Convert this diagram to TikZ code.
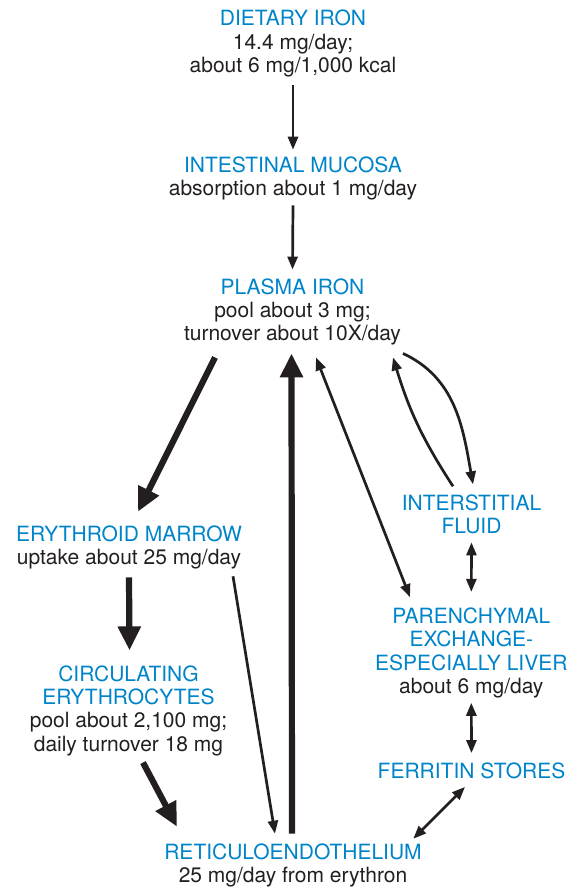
\documentclass[tikz,border=0pt]{standalone}
\usepackage{fontspec}
\setmainfont{TeX Gyre Heros}
\usetikzlibrary{arrows.meta}
\definecolor{ironblue}{RGB}{0,132,201}
\definecolor{irontext}{RGB}{35,31,32}

\begin{document}
\begin{tikzpicture}[
  x=1pt, y=1pt,
  box/.style={align=center, inner sep=0pt, outer sep=0pt, text=irontext,
    font=\fontsize{21}{23.3}\selectfont},
  flowline/.style={line width=2.7pt, draw=irontext, -{Triangle[length=13pt,width=10pt]}},
  twoway/.style={line width=2.7pt, draw=irontext,
    {Triangle[length=13pt,width=10pt]}-{Triangle[length=13pt,width=10pt]}},
  bigflow/.style={line width=6.2pt, draw=irontext, -{Triangle[length=24pt,width=22pt]}}
]
  \useasboundingbox (0,0) rectangle (577,-889);

  % Nodes
  \node[box] (diet) at (293,-43.5) {\textcolor{ironblue}{DIETARY IRON}\\14.4 mg/day;\\about 6 mg/1,000 kcal};
  \node[box] (mucosa) at (293,-178.5) {\textcolor{ironblue}{INTESTINAL MUCOSA}\\absorption about 1 mg/day};
  \node[box] (plasma) at (292.5,-312) {\textcolor{ironblue}{PLASMA IRON}\\pool about 3 mg;\\turnover about 10X/day};

  \node[box] (marrow) at (129,-547.5) {\textcolor{ironblue}{ERYTHROID MARROW}\\uptake about 25 mg/day};
  \node[box] (circ) at (128.5,-710.5) {\textcolor{ironblue}{CIRCULATING}\\\textcolor{ironblue}{ERYTHROCYTES}\\pool about 2,100 mg;\\daily turnover 18 mg};
  \node[box] (retic) at (293,-865.5) {\textcolor{ironblue}{RETICULOENDOTHELIUM}\\25 mg/day from erythron};

  \node[box] (inter) at (471.5,-514) {\textcolor{ironblue}{INTERSTITIAL}\\\textcolor{ironblue}{FLUID}};
  \node[box] (paren) at (471.3,-653) {\textcolor{ironblue}{PARENCHYMAL}\\\textcolor{ironblue}{EXCHANGE-}\\\textcolor{ironblue}{ESPECIALLY LIVER}\\about 6 mg/day};
  \node[box] (ferritin) at (471.5,-770.5) {\textcolor{ironblue}{FERRITIN STORES}};

  % Edges
  \draw[flowline] ([yshift=-8.5pt]diet.south) -- ([yshift=7pt]mucosa.north);
  \draw[flowline] ([yshift=-5pt]mucosa.south) -- ([yshift=9pt]plasma.north);

  \draw[bigflow] ([xshift=-77.5pt,yshift=-12pt]plasma.south) -- ([xshift=9pt,yshift=14pt]marrow.north);
  \draw[bigflow] ([yshift=-8pt]marrow.south) -- ([xshift=1pt,yshift=15pt]circ.north);
  \draw[bigflow] ([xshift=14.5pt,yshift=-7pt]circ.south) -- ([xshift=-116pt,yshift=17pt]retic.north);
  \draw[flowline] ([xshift=104pt,yshift=-7pt]marrow.south) -- ([xshift=-18pt,yshift=10pt]retic.north);
  \draw[bigflow] ([xshift=-1pt,yshift=10pt]retic.north) -- ([xshift=-1pt,yshift=-8pt]plasma.south);

  \draw[twoway] ([xshift=23.5pt,yshift=-12pt]plasma.south) -- ([xshift=-61.3pt,yshift=10.7pt]paren.north);
  \draw[flowline] ([xshift=-18.5pt,yshift=8pt]inter.north) to[bend left=8] ([xshift=100.5pt,yshift=-12pt]plasma.south);
  \draw[flowline] ([xshift=110.5pt,yshift=-8pt]plasma.south) to[out=-25,in=100] ([xshift=1.5pt,yshift=10pt]inter.north);

  \draw[twoway] ([yshift=-8.7pt]inter.south) -- ([yshift=16pt]paren.north);
  \draw[twoway] ([yshift=-4.7pt]paren.south) -- ([yshift=9.4pt]ferritin.north);
  \draw[twoway] ([xshift=-6.5pt,yshift=-8.4pt]ferritin.south) -- ([xshift=120.3pt,yshift=5pt]retic.north);
\end{tikzpicture}
\end{document}
